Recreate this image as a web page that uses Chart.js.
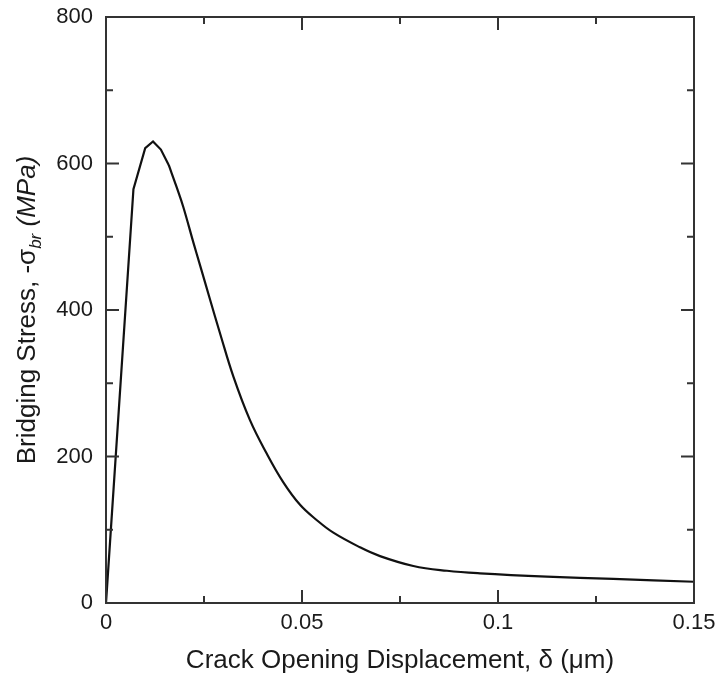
<!DOCTYPE html>
<html>
<head>
<meta charset="utf-8">
<script src="https://cdn.jsdelivr.net/npm/chart.js@4.4.0/dist/chart.umd.min.js"></script>
<style>
html, body { margin: 0; padding: 0; background: #fff; }
#wrap { width: 715px; height: 677px; }
</style>
</head>
<body>
<div id="wrap"><canvas id="chart" width="715" height="677"></canvas></div>
<script>
// crack opening displacement, delta (um)
const delta = [0, 0.007, 0.010, 0.012, 0.014, 0.016, 0.018, 0.0197, 0.0223, 0.0240, 0.0265,
    0.0291, 0.0325, 0.0367, 0.0410, 0.0452, 0.0495, 0.0538, 0.0580, 0.0648, 0.0699,
    0.0784, 0.0870, 0.0954, 0.1124, 0.1294, 0.15];
// bridging stress, -sigma_br (MPa)
const stress = [0, 565, 621, 630, 619, 598, 568, 541, 492, 461, 415,
    368, 309, 250, 204, 165, 134, 113, 96, 76, 64,
    50.5, 44, 40.5, 36, 32.8, 29];
// hasta este indice la curva va en tramos rectos (pico), despues suave
const kinkEnd = 5;

const xTickValues = [0, 0.05, 0.1, 0.15];
const xTickLabels = ['0', '0.05', '0.1', '0.15'];
const yTickValues = [0, 200, 400, 600, 800];
const yTickLabels = ['0', '200', '400', '600', '800'];
const xMinorStep = 0.025;
const yMinorStep = 100;

const FONT = '"Liberation Sans", Arial, Helvetica, sans-serif';

const points = delta.map((d, i) => ({ x: d, y: stress[i] }));

// marco, ticks hacia dentro y titulos de los ejes
const framePlugin = {
    id: 'frame',
    afterDraw(chart) {
        const ctx = chart.ctx;
        const a = chart.chartArea;
        const xs = chart.scales.x;
        const ys = chart.scales.y;
        ctx.save();
        ctx.strokeStyle = '#333';
        ctx.lineWidth = 2;
        ctx.beginPath();
        const nx = Math.round((xs.max - xs.min) / xMinorStep);
        for (let i = 0; i <= nx; i++) {
            const px = xs.getPixelForValue(xs.min + i * xMinorStep);
            const len = i % 2 === 0 ? 13 : 7;
            ctx.moveTo(px, a.bottom); ctx.lineTo(px, a.bottom - len);
            ctx.moveTo(px, a.top); ctx.lineTo(px, a.top + len);
        }
        const ny = Math.round((ys.max - ys.min) / yMinorStep);
        for (let i = 0; i <= ny; i++) {
            const py = ys.getPixelForValue(ys.min + i * yMinorStep);
            const len = i % 2 === 0 ? 13 : 7;
            ctx.moveTo(a.left, py); ctx.lineTo(a.left + len, py);
            ctx.moveTo(a.right, py); ctx.lineTo(a.right - len, py);
        }
        ctx.stroke();
        ctx.strokeRect(a.left, a.top, a.right - a.left, a.bottom - a.top);

        // titulo eje x
        ctx.fillStyle = '#1a1a1a';
        ctx.textAlign = 'center';
        ctx.textBaseline = 'alphabetic';
        ctx.font = '26px ' + FONT;
        ctx.fillText('Crack Opening Displacement, \u03b4 (\u03bcm)', (a.left + a.right) / 2, 668);

        // titulo eje y con subindice
        const parts = [
            { t: 'Bridging Stress, -\u03c3', f: '26px ' + FONT, dy: 0 },
            { t: 'br', f: 'italic 17px ' + FONT, dy: 6 },
            { t: ' (MPa)', f: 'italic 26px ' + FONT, dy: 0 }
        ];
        let w = 0;
        parts.forEach(p => { ctx.font = p.f; p.w = ctx.measureText(p.t).width; w += p.w; });
        ctx.translate(35, (a.top + a.bottom) / 2);
        ctx.rotate(-Math.PI / 2);
        ctx.textAlign = 'left';
        let x = -w / 2;
        parts.forEach(p => {
            ctx.font = p.f;
            ctx.fillText(p.t, x, p.dy);
            x += p.w;
        });
        ctx.restore();
    }
};

const lineStyle = {
    showLine: true,
    borderColor: '#111',
    borderWidth: 2.2,
    pointRadius: 0,
    fill: false
};

const ctx = document.getElementById('chart').getContext('2d');
new Chart(ctx, {
    type: 'scatter',
    data: {
        datasets: [
            Object.assign({ data: points.slice(0, kinkEnd + 1), tension: 0 }, lineStyle),
            Object.assign({ data: points.slice(kinkEnd), tension: 0.4 }, lineStyle)
        ]
    },
    options: {
        responsive: false,
        animation: false,
        layout: { padding: { left: 0, right: 21, top: 17, bottom: 0 } },
        plugins: { legend: { display: false }, tooltip: { enabled: false } },
        scales: {
            x: {
                type: 'linear',
                min: 0,
                max: 0.15,
                grid: { display: false },
                border: { display: false },
                afterBuildTicks: s => { s.ticks = xTickValues.map(v => ({ value: v })); },
                afterFit: s => { s.height = 74; s.paddingLeft = 0; s.paddingRight = 0; },
                ticks: {
                    padding: -1,
                    color: '#1a1a1a',
                    font: { family: FONT, size: 22 },
                    maxRotation: 0,
                    callback: (v, i) => xTickLabels[i]
                }
            },
            y: {
                type: 'linear',
                min: 0,
                max: 800,
                grid: { display: false },
                border: { display: false },
                afterBuildTicks: s => { s.ticks = yTickValues.map(v => ({ value: v })); },
                afterFit: s => { s.width = 106; s.paddingTop = 0; s.paddingBottom = 0; },
                ticks: {
                    padding: 5,
                    color: '#1a1a1a',
                    font: { family: FONT, size: 22 },
                    callback: (v, i) => yTickLabels[i]
                }
            }
        }
    },
    plugins: [framePlugin]
});
</script>
</body>
</html>
